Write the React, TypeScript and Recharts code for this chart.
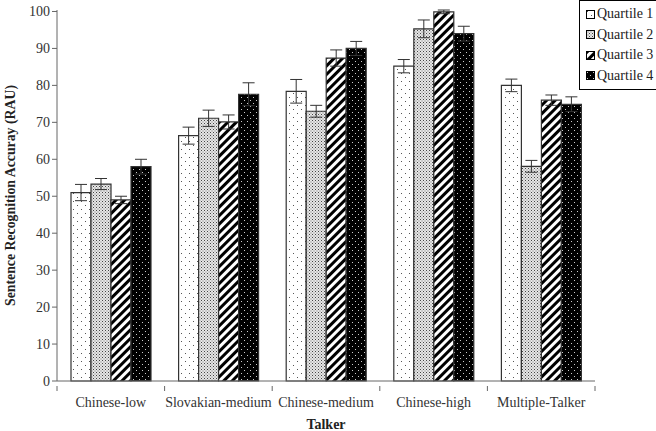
import { BarChart, Bar, XAxis, YAxis, ErrorBar } from 'recharts'

// talker conditions along the x axis
const talkers = ['Chinese-low', 'Slovakian-medium', 'Chinese-medium', 'Chinese-high', 'Multiple-Talker']

// mean RAU per quartile
const quartile1 = [51, 66.4, 78.4, 85.2, 80]
const quartile2 = [53.3, 71.1, 73, 95.3, 58.1]
const quartile3 = [49, 70.1, 87.4, 99.9, 76]
const quartile4 = [58, 77.6, 90, 94, 74.9]

// standard errors
const quartile1Err = [2.2, 2.3, 3.2, 1.8, 1.7]
const quartile2Err = [1.5, 2.2, 1.6, 2.4, 1.6]
const quartile3Err = [1, 1.9, 2.2, 0.5, 1.4]
const quartile4Err = [2, 3.1, 1.9, 2, 2]

const yTicks = [0, 10, 20, 30, 40, 50, 60, 70, 80, 90, 100]

const data = talkers.map((talker, i) => ({
  talker,
  q1: quartile1[i],
  q2: quartile2[i],
  q3: quartile3[i],
  q4: quartile4[i],
  q1e: quartile1Err[i],
  q2e: quartile2Err[i],
  q3e: quartile3Err[i],
  q4e: quartile4Err[i],
}))

const series = [
  { key: 'q1', err: 'q1e', name: 'Quartile 1', fill: 'url(#patQ1)' },
  { key: 'q2', err: 'q2e', name: 'Quartile 2', fill: 'url(#patQ2)' },
  { key: 'q3', err: 'q3e', name: 'Quartile 3', fill: 'url(#patQ3)' },
  { key: 'q4', err: 'q4e', name: 'Quartile 4', fill: 'url(#patQ4)' },
]

const font = '"Liberation Serif", "Times New Roman", serif'

// tick marks sit on the category boundaries, label in the middle
function TalkerTick(props: any) {
  const { x, y, payload, index, visibleTicksCount, width } = props
  const half = payload?.offset || Number(width) / visibleTicksCount / 2 || 0
  const last = index === visibleTicksCount - 1
  return (
    <g>
      <line x1={x - half} x2={x - half} y1={y} y2={y + 5} stroke="#666" />
      {last && <line x1={x + half} x2={x + half} y1={y} y2={y + 5} stroke="#666" />}
      <text x={x} y={y} dy={21} textAnchor="middle" fill="#333" fontSize={14} fontFamily={font}>
        {payload.value}
      </text>
    </g>
  )
}

function LegendBox() {
  return (
    <div
      style={{
        position: 'absolute',
        top: 0,
        left: 579,
        width: 70,
        border: '1px solid #000',
        background: '#fff',
        padding: '3px 0 3px 6px',
        fontFamily: font,
        fontSize: 14,
        color: '#222',
      }}
    >
      {series.map((s) => (
        <div key={s.key} style={{ display: 'flex', alignItems: 'center', height: 20.5, whiteSpace: 'nowrap' }}>
          <svg width={9} height={9} style={{ marginRight: 2 }}>
            <rect x={0.5} y={0.5} width={8} height={8} fill={s.fill} stroke="#000" strokeWidth={1} />
          </svg>
          <span>{s.name}</span>
        </div>
      ))}
    </div>
  )
}

export default function App() {
  return (
    <div style={{ position: 'absolute', left: 0, top: 0, width: 656, height: 431, background: '#fff' }}>
      <BarChart
        width={656}
        height={431}
        data={data}
        margin={{ top: 10, right: 61, left: 0, bottom: 0 }}
        barSize={20}
        barGap={0}
      >
        <defs>
          <pattern id="patQ1" width="8" height="8" patternUnits="userSpaceOnUse">
            <rect width="8" height="8" fill="#fff" />
            <rect x="1" y="1" width="1" height="1" fill="#555" />
            <rect x="5" y="5" width="1" height="1" fill="#555" />
          </pattern>
          <pattern id="patQ2" width="3" height="3" patternUnits="userSpaceOnUse">
            <rect width="3" height="3" fill="#e6e6e6" />
            <rect x="0" y="0" width="1" height="1" fill="#444" />
            <rect x="1.5" y="1.5" width="1" height="1" fill="#777" />
          </pattern>
          <pattern id="patQ3" width="6" height="6" patternUnits="userSpaceOnUse" patternTransform="rotate(45)">
            <rect width="6" height="6" fill="#fff" />
            <rect x="0" y="0" width="3" height="6" fill="#000" />
          </pattern>
          <pattern id="patQ4" width="6" height="6" patternUnits="userSpaceOnUse">
            <rect width="6" height="6" fill="#000" />
            <rect x="1" y="1" width="1" height="1" fill="#ccc" />
            <rect x="4" y="4" width="1" height="1" fill="#ccc" />
          </pattern>
        </defs>
        <XAxis
          dataKey="talker"
          stroke="#666"
          tickLine={false}
          tickSize={5}
          tickMargin={0}
          height={50}
          interval={0}
          tick={<TalkerTick />}
          label={{ value: 'Talker', position: 'insideBottom', offset: 2, fill: '#222', fontSize: 14, fontWeight: 'bold', fontFamily: font }}
        />
        <YAxis
          domain={[0, 100]}
          ticks={yTicks}
          width={57}
          stroke="#666"
          tickSize={5}
          tick={{ fill: '#333', fontSize: 14, fontFamily: font }}
          label={{
            value: 'Sentence Recognition Accuray (RAU)',
            angle: -90,
            position: 'insideLeft',
            offset: 10,
            style: { textAnchor: 'middle', fill: '#222', fontSize: 13.8, fontWeight: 'bold', fontFamily: font },
          }}
        />
        {series.map((s) => (
          <Bar
            key={s.key}
            dataKey={s.key}
            name={s.name}
            fill={s.fill}
            stroke="#333"
            strokeWidth={1.2}
            isAnimationActive={false}
          >
            <ErrorBar dataKey={s.err} width={6} stroke="#333" strokeWidth={1} />
          </Bar>
        ))}
      </BarChart>
      <LegendBox />
    </div>
  )
}
